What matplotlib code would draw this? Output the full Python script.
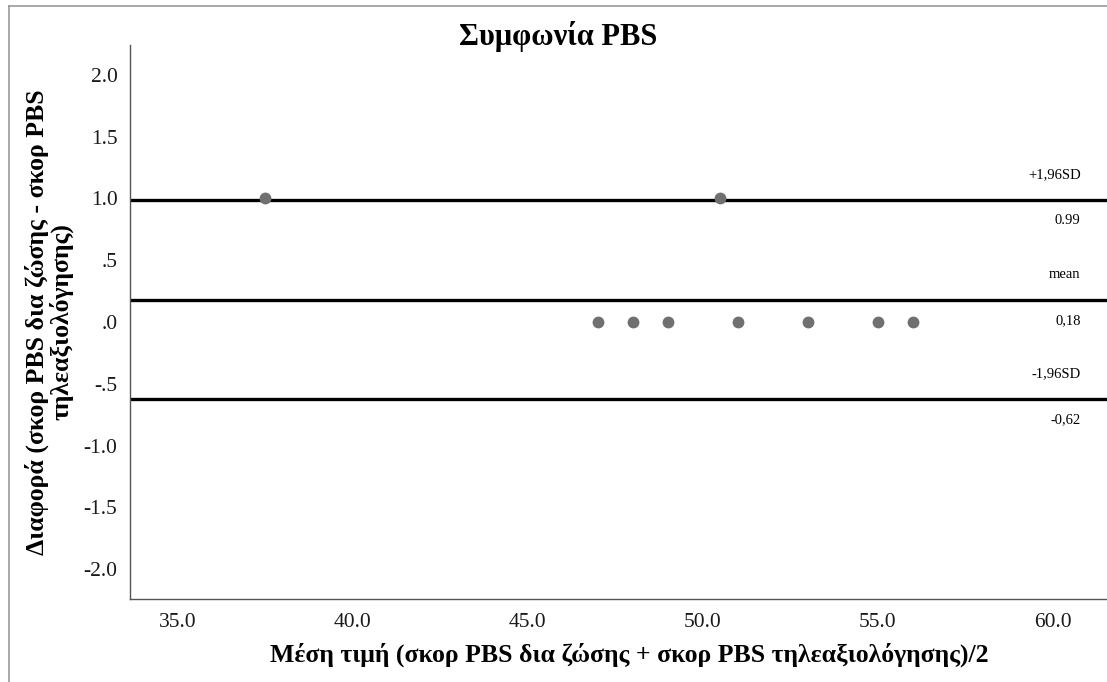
import numpy as np
import matplotlib
matplotlib.use("Agg")
from matplotlib import pyplot as plt
from matplotlib.lines import Line2D

# media (x) e diferenca (y)
media = [37.5, 50.5, 47, 48, 49, 51, 53, 55, 56]
diferenca = [1, 1, 0, 0, 0, 0, 0, 0, 0]

# linhas de Bland-Altman
linhas = [0.99, 0.18, -0.62]
rotulos_cima = ['+1,96SD', 'mean', '-1,96SD']
rotulos_baixo = ['0.99', '0,18', '-0,62']

xticks = [35, 40, 45, 50, 55, 60]
yticks = [2.0, 1.5, 1.0, 0.5, 0.0, -0.5, -1.0, -1.5, -2.0]
ytick_labels = ['2.0', '1.5', '1.0', '.5', '.0', '-.5', '-1.0', '-1.5', '-2.0']

plt.rcParams['font.family'] = ['Liberation Serif', 'DejaVu Serif']

W, H = 1107, 682
fig = plt.figure(figsize=(W / 100, H / 100), dpi=100)
ax = fig.add_axes([130 / W, (H - 599) / H, (W - 130) / W, (599 - 45) / H])

for y in linhas:
    ax.axhline(y, color='black', lw=2.4, zorder=2)

ax.plot(media, diferenca, 'o', color='#707070', markersize=7.5, zorder=3)

for y, t1, t2 in zip(linhas, rotulos_cima, rotulos_baixo):
    ax.annotate(t1, xy=(0.973, y), xycoords=('axes fraction', 'data'),
                xytext=(0, 18), textcoords='offset points',
                ha='right', va='center', fontsize=10.5)
    ax.annotate(t2, xy=(0.973, y), xycoords=('axes fraction', 'data'),
                xytext=(0, -15), textcoords='offset points',
                ha='right', va='center', fontsize=10.5)

ax.set_xlim(33.63, 61.55)
ax.set_ylim(-2.24, 2.24)
ax.set_xticks(xticks)
ax.set_xticklabels(['%.1f' % v for v in xticks])
ax.set_yticks(yticks)
ax.set_yticklabels(ytick_labels)
ax.tick_params(length=0, labelsize=15.5, colors='#1a1a1a')
ax.tick_params(axis='x', pad=10)
ax.tick_params(axis='y', pad=9)

for s in ['top', 'right']:
    ax.spines[s].set_visible(False)
for s in ['left', 'bottom']:
    ax.spines[s].set_color('#555555')
    ax.spines[s].set_linewidth(1.0)

ax.set_xlabel('Μέση τιμή (σκορ PBS δια ζώσης + σκορ PBS τηλεαξιολόγησης)/2',
              fontsize=18.5, fontweight='bold', labelpad=8)
ax.xaxis.label.set_x(0.511)
ax.set_ylabel('Διαφορά (σκορ PBS δια ζώσης - σκορ PBS\nτηλεαξιολόγησης)',
              fontsize=18.5, fontweight='bold', labelpad=7, linespacing=1.0)

fig.text(558 / W, 1 - 37 / H, 'Συμφωνία PBS', ha='center', va='center',
         fontsize=22, fontweight='bold')

# moldura da figura
fig.add_artist(Line2D([9 / W, 1], [1 - 6 / H, 1 - 6 / H], color='#999999', lw=1.2))
fig.add_artist(Line2D([9 / W, 9 / W], [0, 1 - 6 / H], color='#999999', lw=1.2))

fig.savefig('out.png', dpi=100)
